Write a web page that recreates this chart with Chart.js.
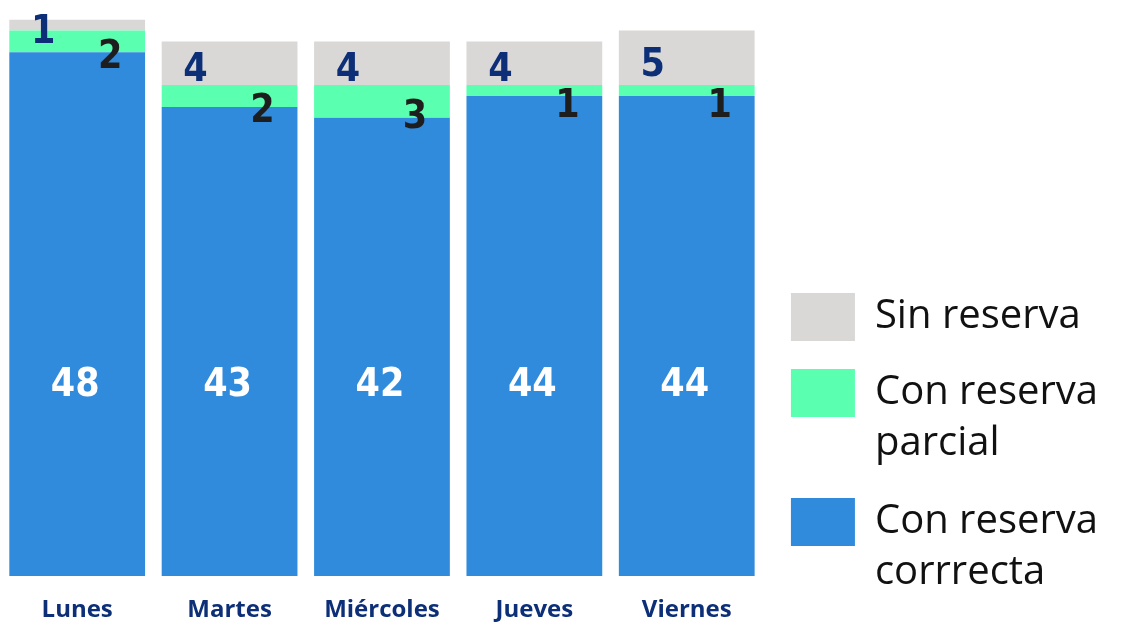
<!DOCTYPE html>
<html>
<head>
<meta charset="utf-8">
<script src="https://cdn.jsdelivr.net/npm/chart.js@4/dist/chart.umd.min.js"></script>
<style>
  html, body { margin: 0; padding: 0; background: #ffffff; }
  canvas { display: block; }
</style>
</head>
<body>
<canvas id="reservasChart" width="1122" height="625"></canvas>
<script>
// datos
const dias = ['Lunes', 'Martes', 'Miércoles', 'Jueves', 'Viernes'];
const conReservaCorrecta = [48, 43, 42, 44, 44];
const conReservaParcial = [2, 2, 3, 1, 1];
const sinReserva = [1, 4, 4, 4, 5];
const etiquetas = [['Con reserva', 'corrrecta'], ['Con reserva', 'parcial'], 'Sin reserva'];

const azul = '#318bdc';
const verde = '#5affb0';
const gris = '#d9d8d6';
const navy = '#0c2f78';
const oscuro = '#1e1e1e';
const numFont = '"Liberation Sans Narrow", "DejaVu Sans Condensed", sans-serif';

// nivel (en unidades del eje) donde van los numeros blancos
const nivelEtiquetaAzul = 17.4;

// etiquetas de valores dibujadas a mano (no hay plugin datalabels)
const valueLabels = {
  id: 'valueLabels',
  afterDatasetsDraw(chart) {
    const ctx = chart.ctx;
    const yScale = chart.scales.y;
    ctx.save();
    ctx.textAlign = 'center';
    ctx.textBaseline = 'middle';
    chart.data.datasets.forEach(function (ds, i) {
      const meta = chart.getDatasetMeta(i);
      meta.data.forEach(function (bar, j) {
        const v = ds.data[j];
        const mid = (bar.y + bar.base) / 2;
        ctx.font = 'bold 39px ' + numFont;
        if (i === 0) {
          ctx.fillStyle = '#ffffff';
          ctx.fillText(v, bar.x - 2, yScale.getPixelForValue(nivelEtiquetaAzul));
        } else if (i === 1) {
          ctx.fillStyle = oscuro;
          ctx.fillText(v, bar.x + 33, mid + 16);
        } else {
          ctx.fillStyle = navy;
          ctx.fillText(v, bar.x - 34, mid + 8);
        }
      });
    });
    ctx.restore();
  }
};

const ctx = document.getElementById('reservasChart').getContext('2d');
const chart = new Chart(ctx, {
  type: 'bar',
  data: {
    labels: dias,
    datasets: [{
      label: etiquetas[0],
      data: conReservaCorrecta,
      backgroundColor: azul,
    }, {
      label: etiquetas[1],
      data: conReservaParcial,
      backgroundColor: verde,
    }, {
      label: etiquetas[2],
      data: sinReserva,
      backgroundColor: gris,
    }]
  },
  options: {
    responsive: false,
    animation: false,
    datasets: {
      bar: {
        borderWidth: 0,
        categoryPercentage: 0.9,
        barPercentage: 0.99,
      }
    },
    layout: { padding: { left: 1, right: 14, top: 0, bottom: -2 } },
    scales: {
      x: {
        stacked: true,
        grid: { display: false, drawTicks: false },
        border: { display: false },
        ticks: {
          color: navy,
          padding: 20,
          font: { family: '"Open Sans", Lato, sans-serif', size: 24, weight: 'bold' }
        },
        afterFit(scale) {
          scale.height = 51;
        }
      },
      y: {
        stacked: true,
        display: false,
        min: 0,
        max: 52.8,
      }
    },
    plugins: {
      tooltip: { enabled: false },
      legend: {
        position: 'right',
        align: 'end',
        reverse: true,
        labels: {
          boxWidth: 64,
          boxHeight: 48,
          padding: 28,
          color: '#111111',
          font: { family: '"Open Sans", Lato, sans-serif', size: 40, lineHeight: 1.2625 }
        }
      }
    }
  },
  plugins: [valueLabels]
});
</script>
</body>
</html>
